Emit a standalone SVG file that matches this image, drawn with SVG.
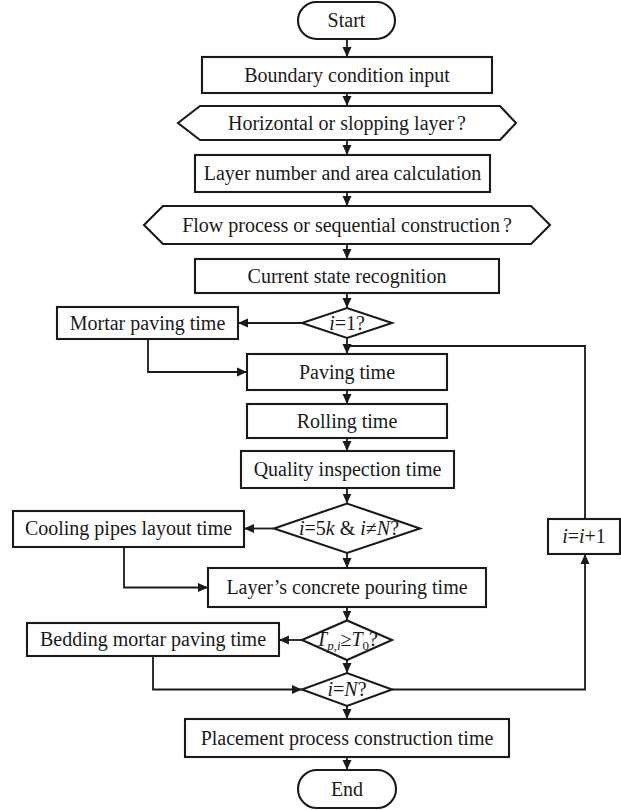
<svg xmlns="http://www.w3.org/2000/svg" width="621" height="810" viewBox="0 0 621 810">
<style>
.s{fill:#fff;stroke:#1a1a1a;stroke-width:2.1}
.t{font-family:"Liberation Serif","Times New Roman",serif;font-size:20px;fill:#1a1a1a;text-anchor:middle}
.i{font-style:italic}
.c{fill:none;stroke:#1a1a1a;stroke-width:1.8}
</style>
<defs>
<marker id="a" markerUnits="userSpaceOnUse" markerWidth="10" markerHeight="10" refX="10" refY="5" orient="auto">
<path d="M0,0.5 L10,5 L0,9.5 z" fill="#1a1a1a"/>
</marker>
</defs>
<rect width="621" height="810" fill="#fff"/>
<g id="connectors">
<path class="c" marker-end="url(#a)" d="M347,39 V57"/>
<path class="c" marker-end="url(#a)" d="M347,93 V106"/>
<path class="c" marker-end="url(#a)" d="M347,140 V155"/>
<path class="c" marker-end="url(#a)" d="M347,192 V206"/>
<path class="c" marker-end="url(#a)" d="M347,244 V259"/>
<path class="c" marker-end="url(#a)" d="M347,293 V308"/>
<path class="c" marker-end="url(#a)" d="M347,338 V354"/>
<path class="c" marker-end="url(#a)" d="M347,390 V404"/>
<path class="c" marker-end="url(#a)" d="M347,438 V451"/>
<path class="c" marker-end="url(#a)" d="M347,488 V503.5"/>
<path class="c" marker-end="url(#a)" d="M347,553 V568"/>
<path class="c" marker-end="url(#a)" d="M347,607 V620.5"/>
<path class="c" marker-end="url(#a)" d="M347,660 V673"/>
<path class="c" marker-end="url(#a)" d="M347,706 V719"/>
<path class="c" marker-end="url(#a)" d="M347,757 V770"/>
<path class="c" marker-end="url(#a)" d="M302,323 H238"/>
<path class="c" marker-end="url(#a)" d="M148,339 V372 H247"/>
<path class="c" marker-end="url(#a)" d="M274,528.5 H244"/>
<path class="c" marker-end="url(#a)" d="M124,547 V587.5 H208"/>
<path class="c" marker-end="url(#a)" d="M302,640 H279"/>
<path class="c" marker-end="url(#a)" d="M153,656 V689.5 H302"/>
<path class="c" marker-end="url(#a)" d="M392,689.5 H585 V554"/>
<path class="c" d="M585,519 V346 H347"/>
</g>
<g id="start"><rect class="s" x="298" y="2" width="97" height="37" rx="18.5"/><text class="t" x="346.5" y="27">Start</text></g>
<g id="boundary"><rect class="s" x="202" y="57" width="290" height="36"/><text class="t" x="347" y="81.5">Boundary condition input</text></g>
<g id="horizontal"><polygon class="s" points="178,123 200,106 500,106 516,123 500,140 200,140"/><text class="t" x="347" y="129.5">Horizontal or slopping layer<tspan dx="3">?</tspan></text></g>
<g id="layer-number"><rect class="s" x="195" y="155" width="295" height="37"/><text class="t" x="342.5" y="180">Layer number and area calculation</text></g>
<g id="flow"><polygon class="s" points="144,225 163,206 531,206 550,225 531,244 163,244"/><text class="t" x="347" y="231.5">Flow process or sequential construction<tspan dx="3">?</tspan></text></g>
<g id="current"><rect class="s" x="195" y="259" width="304" height="34"/><text class="t" x="347" y="282.5">Current state recognition</text></g>
<g id="d-i1"><polygon class="s" points="302,323 347,308 392,323 347,338"/><text class="t" x="347" y="329.5"><tspan class="i">i</tspan>=1?</text></g>
<g id="mortar"><rect class="s" x="57" y="307" width="181" height="32"/><text class="t" x="147.5" y="329.5">Mortar paving time</text></g>
<g id="paving"><rect class="s" x="247" y="354" width="200" height="36"/><text class="t" x="347" y="378.5">Paving time</text></g>
<g id="rolling"><rect class="s" x="247" y="404" width="200" height="34"/><text class="t" x="347" y="427.5">Rolling time</text></g>
<g id="quality"><rect class="s" x="241" y="451" width="213" height="37"/><text class="t" x="347.5" y="476">Quality inspection time</text></g>
<g id="d-5k"><polygon class="s" points="274,528.5 347,503.5 420,528.5 347,553"/><text class="t" x="349" y="535"><tspan class="i">i</tspan>=5<tspan class="i">k</tspan> &amp; <tspan class="i">i</tspan>≠<tspan class="i">N</tspan>?</text></g>
<g id="cooling"><rect class="s" x="13" y="511" width="231" height="36"/><text class="t" x="128.5" y="535">Cooling pipes layout time</text></g>
<g id="concrete"><rect class="s" x="208" y="568" width="278" height="39"/><text class="t" x="347" y="594">Layer’s concrete pouring time</text></g>
<g id="d-t"><polygon class="s" points="302,640 347,620.5 392,640 347,660"/><text class="t" x="347" y="646"><tspan class="i">T</tspan><tspan class="i" font-size="13" dy="4">p,i</tspan><tspan dy="-4">≥</tspan><tspan class="i">T</tspan><tspan font-size="13" dy="4">0</tspan><tspan dy="-4">?</tspan></text></g>
<g id="bedding"><rect class="s" x="27" y="623" width="252" height="33"/><text class="t" x="153" y="646">Bedding mortar paving time</text></g>
<g id="d-n"><polygon class="s" points="302,689.5 347,673 392,689.5 347,706"/><text class="t" x="347" y="695.5" font-size="18"><tspan class="i">i</tspan>=<tspan class="i">N</tspan>?</text></g>
<g id="increment"><rect class="s" x="548" y="519" width="72" height="35"/><text class="t" x="584" y="543"><tspan class="i">i</tspan>=<tspan class="i">i</tspan>+1</text></g>
<g id="placement"><rect class="s" x="185" y="719" width="324" height="38"/><text class="t" x="347" y="744.5">Placement process construction time</text></g>
<g id="end"><rect class="s" x="298" y="770" width="98" height="38" rx="19"/><text class="t" x="347" y="795.5">End</text></g>
</svg>
